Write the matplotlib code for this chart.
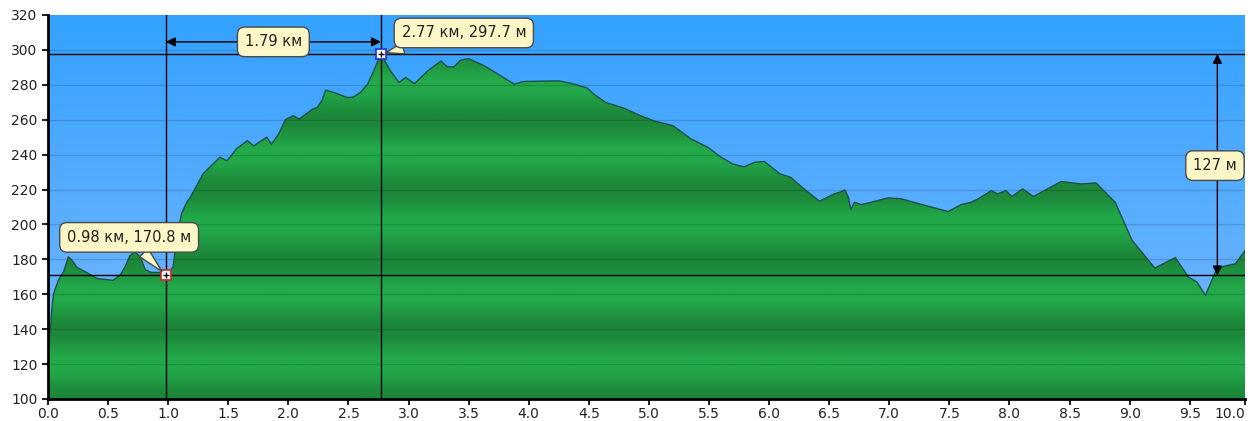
"""Elevation profile with min/peak markers and distance/height dimension arrows."""

import matplotlib

matplotlib.use("Agg")
import matplotlib.pyplot as plt  # noqa: E402
import numpy as np  # noqa: E402
from matplotlib.colors import LinearSegmentedColormap  # noqa: E402
from matplotlib.patches import Polygon  # noqa: E402

# profile: distance (km) and elevation (m)
dist_km = [
    0.0, 0.03, 0.045, 0.086, 0.13, 0.17, 0.20, 0.24, 0.32, 0.41, 0.54, 0.60,
    0.64, 0.68, 0.725, 0.77, 0.81, 0.86, 0.93, 0.98, 1.04, 1.07, 1.11, 1.16,
    1.18, 1.29, 1.43, 1.49, 1.57, 1.66, 1.71, 1.82, 1.86, 1.92, 1.975, 2.04,
    2.09, 2.20, 2.24, 2.28, 2.31, 2.38, 2.49, 2.54, 2.60, 2.66, 2.71, 2.77,
    2.85, 2.92, 2.975, 3.05, 3.16, 3.27, 3.32, 3.38, 3.43, 3.50, 3.63, 3.77,
    3.88, 3.96, 4.25, 4.38, 4.49, 4.54, 4.64, 4.79, 4.93, 5.04, 5.20, 5.35,
    5.49, 5.60, 5.70, 5.79, 5.88, 5.96, 6.09, 6.18, 6.29, 6.42, 6.54, 6.59,
    6.63, 6.66, 6.68, 6.71, 6.77, 6.82, 6.99, 7.10, 7.24, 7.49, 7.60, 7.68,
    7.74, 7.85, 7.90, 7.97, 8.02, 8.11, 8.20, 8.29, 8.43, 8.60, 8.72, 8.88,
    9.02, 9.21, 9.38, 9.49, 9.56, 9.63, 9.72, 9.78, 9.88, 9.96,
]
elev_m = [
    122, 150, 160, 168, 173, 181.5, 179.5, 175.5, 172.5, 169, 168, 171,
    175.5, 182, 184.5, 181, 174, 172.5, 172.5, 170.8, 175.5, 191, 206, 213.5,
    215, 229, 238.5, 236.5, 243.5, 248, 245, 250, 246, 252, 260, 262.3,
    260.4, 266, 267, 271, 277, 275.6, 272.7, 273, 275.6, 280.4, 288, 297.7,
    288, 281.3, 284.2, 280.7, 288, 293.7, 290.3, 290.3, 294, 295, 290.9, 285,
    280.4, 281.9, 282.3, 280.4, 278, 274.7, 269.9, 266.7, 262.3, 259.4, 256.6, 249,
    244.2, 238.5, 234.6, 233, 235.6, 236.1, 229, 227, 220.4, 213.3, 217.5, 218.5,
    219.8, 215.6, 208.5, 212.7, 211.4, 212.2, 215.2, 214.7, 212, 207.4, 211.4, 212.7,
    214.7, 219.4, 217.5, 219.4, 216, 220.4, 216, 219.4, 224.6, 223.2, 223.8, 212.7,
    190.9, 175, 181, 169.9, 167, 159.4, 173.7, 176, 177.5, 185,
]

min_point = (0.98, 170.8)
peak_point = (2.77, 297.7)
height_arrow_km = 9.73

x_ticks = [0.0, 0.5, 1.0, 1.5, 2.0, 2.5, 3.0, 3.5, 4.0, 4.5, 5.0,
           5.5, 6.0, 6.5, 7.0, 7.5, 8.0, 8.5, 9.0, 9.5, 9.96]
y_ticks = [100, 120, 140, 160, 180, 200, 220, 240, 260, 280, 300, 320]

XMAX = dist_km[-1]
YMIN, YMAX = 100, 320
CREAM = "#fdf7c8"
BOX_EDGE = "#4a4a4a"

fig = plt.figure(figsize=(12.48, 4.21), dpi=100)
ax = fig.add_axes([48 / 1248, 22 / 421, 1197 / 1248, 384 / 421])
ax.set_xlim(0, XMAX)
ax.set_ylim(YMIN, YMAX)

# sky gradient
sky = LinearSegmentedColormap.from_list("sky", ["#7cb9ff", "#34a2ff"])
ax.imshow(np.linspace(0, 1, 256)[:, None], cmap=sky, origin="lower",
          extent=[0, XMAX, YMIN, YMAX], aspect="auto", zorder=0)

# banded green terrain, clipped to the profile
levels = np.linspace(YMIN, YMAX, 880)
shade = 0.5 * (1 + np.cos(2 * np.pi * (levels - YMIN) / 40.0))
ground = LinearSegmentedColormap.from_list("ground", ["#23ab4b", "#1c8739"])
im = ax.imshow(shade[:, None], cmap=ground, origin="lower", vmin=0, vmax=1,
               extent=[0, XMAX, YMIN, YMAX], aspect="auto", zorder=1)
verts = [(0, YMIN)] + list(zip(dist_km, elev_m)) + [(XMAX, YMIN)]
terrain = Polygon(verts, closed=True, facecolor="none", edgecolor="none")
ax.add_patch(terrain)
im.set_clip_path(terrain)
ax.plot(dist_km, elev_m, color="#1d4f4a", lw=1.0, zorder=3)

for y in y_ticks[1:-1]:
    ax.axhline(y, color="black", alpha=0.15, lw=1, zorder=2)

# crosshairs through the two marked points
for km, m in (min_point, peak_point):
    ax.axvline(km, color="black", lw=1, zorder=4)
    ax.axhline(m, color="black", lw=1, zorder=4)

ax.plot(*min_point, marker="s", ms=7, mfc="white", mec="#d0302a", mew=1.3, zorder=6)
ax.plot(*min_point, marker="+", ms=5, color="black", mew=1, zorder=7)
ax.plot(*peak_point, marker="s", ms=7, mfc="white", mec="#2a3ad0", mew=1.3, zorder=6)
ax.plot(*peak_point, marker="+", ms=5, color="black", mew=1, zorder=7)

box = dict(boxstyle="round,pad=0.5,rounding_size=0.5", fc=CREAM, ec=BOX_EDGE, lw=1)
tail = dict(arrowstyle="wedge,tail_width=0.8,shrink_factor=0.5", fc=CREAM,
            ec=BOX_EDGE, lw=1, shrinkA=0, shrinkB=4)

ax.annotate(f"{min_point[0]:.2f} км, {min_point[1]:.1f} м", xy=min_point,
            xytext=(0.675, 192.6), ha="center", va="center", fontsize=10.5,
            color="#222222", bbox=box, arrowprops=tail, zorder=8)
ax.annotate(f"{peak_point[0]:.2f} км, {peak_point[1]:.1f} м", xy=peak_point,
            xytext=(3.46, 309.7), ha="center", va="center", fontsize=10.5,
            color="#222222", bbox=box, arrowprops=tail, zorder=8)

# distance between the two points
dim_y = 304.6
ax.annotate("", xy=(peak_point[0], dim_y), xytext=(min_point[0], dim_y),
            arrowprops=dict(arrowstyle="<|-|>", color="black", lw=1,
                            shrinkA=0, shrinkB=0, mutation_scale=14), zorder=5)
ax.text((min_point[0] + peak_point[0]) / 2, dim_y,
        f"{peak_point[0] - min_point[0]:.2f} км", ha="center", va="center",
        fontsize=10.5, color="#222222", bbox=box, zorder=8)

# height difference
ax.annotate("", xy=(height_arrow_km, min_point[1]),
            xytext=(height_arrow_km, peak_point[1]),
            arrowprops=dict(arrowstyle="<|-|>", color="black", lw=1,
                            shrinkA=0, shrinkB=0, mutation_scale=14), zorder=5)
ax.text(height_arrow_km - 0.02, 233.7,
        f"{peak_point[1] - min_point[1]:.0f} м", ha="center", va="center",
        fontsize=10.5, color="#222222", bbox=box, zorder=8)

ax.set_xticks(x_ticks)
ax.set_xticklabels([f"{v:.1f}" for v in x_ticks])
ax.get_xticklabels()[-1].set_ha("right")
ax.set_yticks(y_ticks)
ax.tick_params(axis="both", labelsize=10, colors="#222222", length=4, width=1.5,
               direction="out")
ax.tick_params(axis="x", pad=2)
for side in ("top", "right"):
    ax.spines[side].set_visible(False)
for side in ("left", "bottom"):
    ax.spines[side].set_linewidth(2)
    ax.spines[side].set_zorder(9)

fig.savefig("out.png", dpi=100)
plt.close(fig)
